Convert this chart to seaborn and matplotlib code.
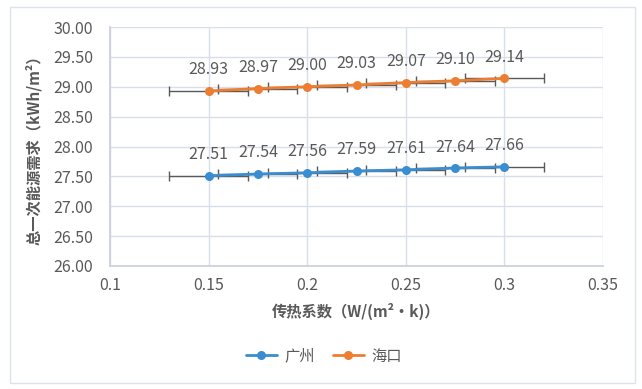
import matplotlib
matplotlib.use("Agg")
import matplotlib.pyplot as plt
import seaborn as sns
import pandas as pd
from matplotlib.patches import Rectangle

x_vals = [0.15, 0.175, 0.2, 0.225, 0.25, 0.275, 0.3]
guangzhou = [27.51, 27.54, 27.56, 27.59, 27.61, 27.64, 27.66]
haikou = [28.93, 28.97, 29.00, 29.03, 29.07, 29.10, 29.14]
x_err = 0.02
series_names = ["广州", "海口"]
colors = ["#3A8DD0", "#ED7D31"]

sns.set_theme(style="white")
plt.rcParams['font.family'] = ['Noto Sans CJK SC', 'DejaVu Sans']

df = pd.DataFrame({
    "x": x_vals * 2,
    "y": guangzhou + haikou,
    "city": [series_names[0]] * len(x_vals) + [series_names[1]] * len(x_vals),
})

fig = plt.figure(figsize=(6.42, 3.89), dpi=100)
ax = fig.add_axes([110 / 642, 1 - 266 / 389, (603 - 110) / 642, (266 - 27) / 389])

# outer frame
fig.patches.append(Rectangle((10 / 642, 1 - 383 / 389), 625 / 642, 376 / 389,
                             transform=fig.transFigure, fill=False,
                             edgecolor="#DCE3EC", linewidth=1.0))

sns.lineplot(data=df, x="x", y="y", hue="city", palette=colors, marker="o",
             markersize=6.5, markeredgewidth=0, linewidth=2.0, ax=ax, legend=True)

for ys in (guangzhou, haikou):
    ax.errorbar(x_vals, ys, xerr=x_err, fmt="none", ecolor="#595959",
                elinewidth=1.0, capsize=3.5, capthick=1.0, zorder=1)
    for xv, yv in zip(x_vals, ys):
        ax.annotate(f"{yv:.2f}", (xv, yv), xytext=(0, 9), textcoords="offset points",
                    ha="center", va="bottom", fontsize=11.5, color="#595959")

ax.set_xlim(0.1, 0.35)
ax.set_ylim(26, 30)
ax.set_xticks([0.1, 0.15, 0.2, 0.25, 0.3, 0.35])
ax.set_xticklabels(["0.1", "0.15", "0.2", "0.25", "0.3", "0.35"])
ax.set_yticks([26 + 0.5 * i for i in range(9)])
ax.set_yticklabels([f"{26 + 0.5 * i:.2f}" for i in range(9)])
ax.tick_params(axis="both", labelsize=11.5, colors="#595959", length=0)
ax.tick_params(axis="y", pad=12)
ax.tick_params(axis="x", pad=8)
ax.grid(True, color="#D9DFE8", linewidth=1.0)
for s in ax.spines.values():
    s.set_visible(False)
ax.spines["left"].set_visible(True)
ax.spines["left"].set_color("#C9D1DD")
ax.spines["bottom"].set_visible(True)
ax.spines["bottom"].set_color("#C9D1DD")
ax.set_axisbelow(True)

ax.set_xlabel("传热系数（W/(m²·k)）", fontsize=11, fontweight="bold", color="#595959", labelpad=6)
ax.set_ylabel("总一次能源需求（kWh/m²）", fontsize=11, fontweight="bold", color="#595959", labelpad=8)

handles, labels = ax.get_legend_handles_labels()
leg = ax.legend(handles, labels, loc="center",
                bbox_to_anchor=((324 - 110) / 493, (266 - 356) / 239),
                ncol=2, frameon=False, fontsize=11, handlelength=2.0, handletextpad=0.5,
                columnspacing=1.2)
for t in leg.get_texts():
    t.set_color("#595959")

fig.savefig("out.png", dpi=100)
